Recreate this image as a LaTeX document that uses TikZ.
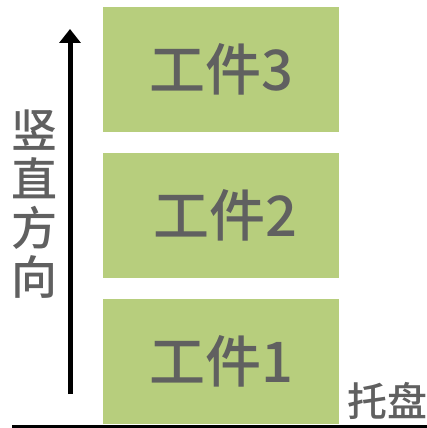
\documentclass[tikz,border=0pt]{standalone}
\usepackage{fontspec}
\setmainfont{Noto Sans CJK SC}[UprightFont=* Medium]
\usetikzlibrary{arrows.meta}
\definecolor{boxgreen}{RGB}{183,206,125}
\definecolor{txtgray}{RGB}{96,96,96}
\tikzset{
  part/.style={fill=boxgreen, draw=none, minimum width=236pt, minimum height=125pt, inner sep=0pt,
    text=txtgray, font=\fontsize{56}{60}\selectfont},
  lbl/.style={text=txtgray, inner sep=0pt}
}
\begin{document}
\begin{tikzpicture}[x=1pt,y=-1pt]
\useasboundingbox (0,0) rectangle (427,428);
\node[part] (b3) at (221,69.5) {工件3};
\node[part] (b2) at (221,215.5) {\hspace{8pt}工件2};
\node[part] (b1) at (221,361.5) {工件1};
\coordinate (floorL) at (12,426);
\coordinate (floorR) at (427,426);
\draw[line width=3pt] (floorL) -- (floorR);
\coordinate (arrS) at (70,394);
\coordinate (arrE) at (70,29);
\draw[line width=5pt, -{Triangle[width=21pt,length=14pt]}] (arrS) -- (arrE);
\node[lbl, align=center, font=\fontsize{46}{49}\selectfont] (dir) at (35,204) {竖\\直\\方\\向};
\node[lbl, font=\fontsize{40}{44}\selectfont] (tray) at (387,401) {托盘};
\end{tikzpicture}
\end{document}
